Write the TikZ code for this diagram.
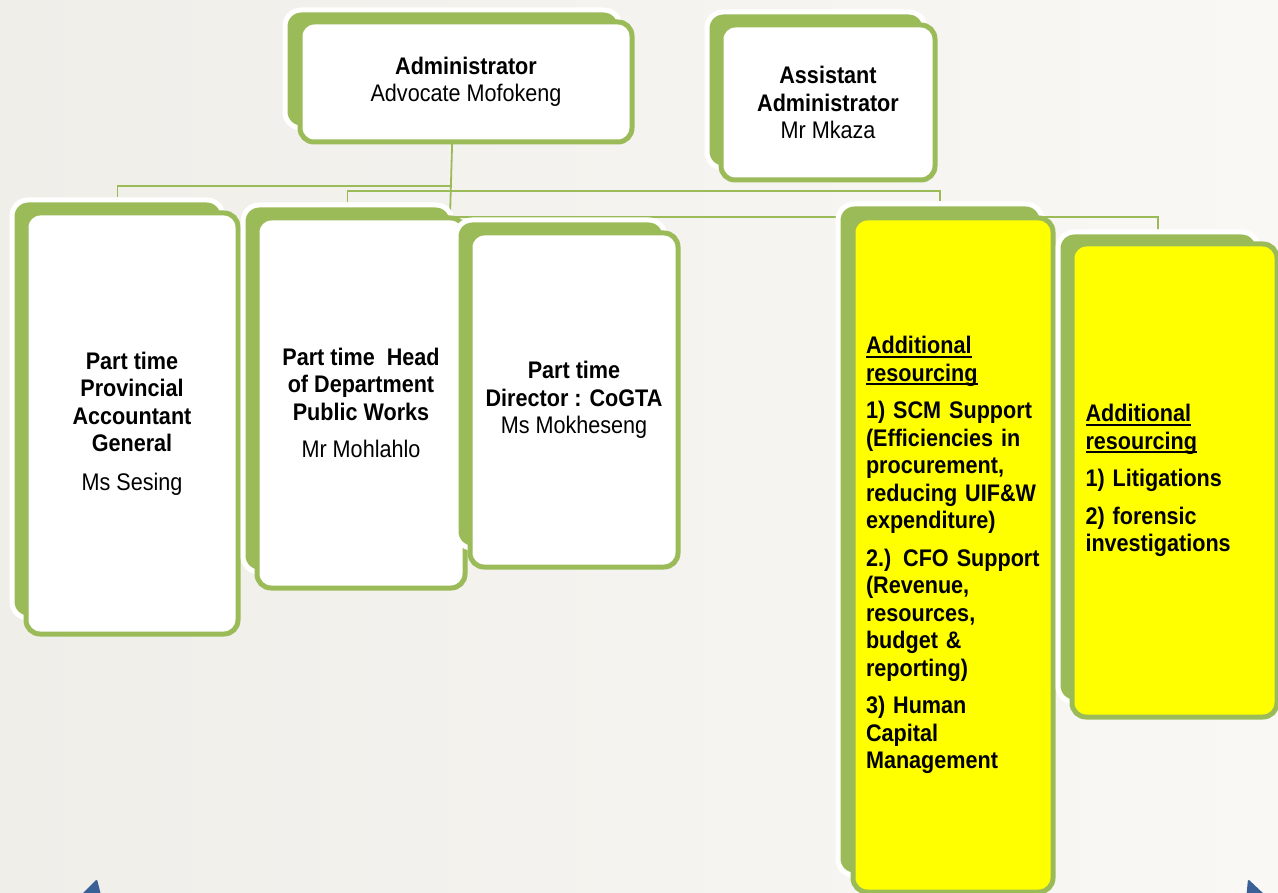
\documentclass[tikz,border=0pt]{standalone}
\usepackage{fontspec}
\setmainfont{Liberation Sans}[FakeStretch=0.9]
\usetikzlibrary{backgrounds}
\definecolor{leafgreen}{RGB}{155,187,89}
\definecolor{notice}{RGB}{255,255,0}
\definecolor{navblue}{RGB}{58,96,152}
\definecolor{paperL}{RGB}{240,238,233}
\definecolor{paperR}{RGB}{249,248,245}
\newcommand{\uword}[1]{\leavevmode\setbox0\hbox{#1}\rlap{\rule[-4pt]{\wd0}{2pt}}\box0}
\begin{document}
\begin{tikzpicture}[x=1pt, y=-1pt,
  backcard/.style={draw=white, line width=5pt, fill=leafgreen, rounded corners=16pt, inner sep=0pt, anchor=north west},
  card/.style={draw=leafgreen, line width=5pt, fill=white, rounded corners=14pt, anchor=north west, align=center, font=\fontsize{24}{27.5}\selectfont},
  link/.style={draw=leafgreen, line width=1.8pt}]
\useasboundingbox (0,0) rectangle (1278,893);

% Administrator
\node[backcard, minimum width=335pt, minimum height=118pt] (adm-b) at (282.5,7.5) {};
\node[card, minimum width=332pt, minimum height=120pt] (adm) at (297.5,19.5)
  {\textbf{Administrator}\\Advocate Mofokeng};

% Assistant Administrator
\node[backcard, minimum width=218pt, minimum height=156pt] (asst-b) at (704.5,9.5) {};
\node[card, minimum width=214pt, minimum height=155pt] (asst) at (718.5,22.5)
  {\textbf{Assistant}\\\textbf{Administrator}\\Mr Mkaza};

% Part time Provincial Accountant General
\node[backcard, minimum width=211pt, minimum height=418pt] (pa-b) at (9.5,197.5) {};
\node[card, minimum width=212pt, minimum height=421pt] (pa) at (23.5,210.5)
  {\textbf{Part time}\\\textbf{Provincial}\\\textbf{Accountant}\\\textbf{General}\\[11pt]Ms Sesing};

% Part time Head of Department
\node[backcard, minimum width=209pt, minimum height=367pt] (hod-b) at (240.5,202.5) {};
\node[card, minimum width=208pt, minimum height=370pt] (hod) at (254.5,215.5)
  {\textbf{Part time~ Head}\\\textbf{of Department}\\\textbf{Public Works}\\[10pt]Mr Mohlahlo};

% Part time Director CoGTA
\node[backcard, minimum width=209pt, minimum height=328pt] (cog-b) at (453.5,217.5) {};
\node[card, minimum width=208pt, minimum height=334pt] (cog) at (467.5,230.5)
  {\textbf{Part time}\\\textbf{Director : CoGTA}\\Ms Mokheseng};

% Additional resourcing (SCM, CFO, HC)
\node[backcard, minimum width=204pt, minimum height=671pt] (scm-b) at (835.5,201.5) {};
\node[card, fill=notice, align=left, text width=174pt, minimum width=200pt, minimum height=674pt] (scm) at (850.5,215.5)
  {\bfseries\uword{Additional}\\\uword{resourcing}\\[10pt]
   1) SCM Support\\(Efficiencies in\\procurement,\\reducing UIF\&W\\expenditure)\\[10pt]
   2.) CFO Support\\(Revenue,\\resources,\\budget \&\\reporting)\\[10pt]
   3) Human\\Capital\\Management};

% Additional resourcing (litigation)
\node[backcard, minimum width=200pt, minimum height=470pt] (lit-b) at (1055.5,229.5) {};
\node[card, fill=notice, align=left, text width=178pt, minimum width=205pt, minimum height=473pt] (lit) at (1069.5,241.5)
  {\bfseries\uword{Additional}\\\uword{resourcing}\\[10pt]
   1) Litigations\\[10pt]
   2) forensic\\investigations};

% Navigation marks
\fill[navblue, rounded corners=1.5pt] (97,879) -- (101,895) -- (81,895) -- cycle;
\fill[navblue, rounded corners=1.5pt] (1248,879) -- (1265,895) -- (1246.5,895) -- cycle;

% Page and connectors behind the cards
\begin{scope}[on background layer]
\shade[left color=paperL, right color=paperR] (0,0) rectangle (1278,893);
\coordinate (busA) at (450,186);
\coordinate (busB) at (450,191);
\coordinate (busC) at (450,217);
\draw[link] (adm-b.south) -- (busC) -| (lit-b.north);
\draw[link] (busC) -| (cog-b.north);
\draw[link] (busA) -| (pa-b.north);
\draw[link] (busB) -| (hod-b.north);
\draw[link] (busB) -| (scm-b.north);
\end{scope}
\end{tikzpicture}
\end{document}
